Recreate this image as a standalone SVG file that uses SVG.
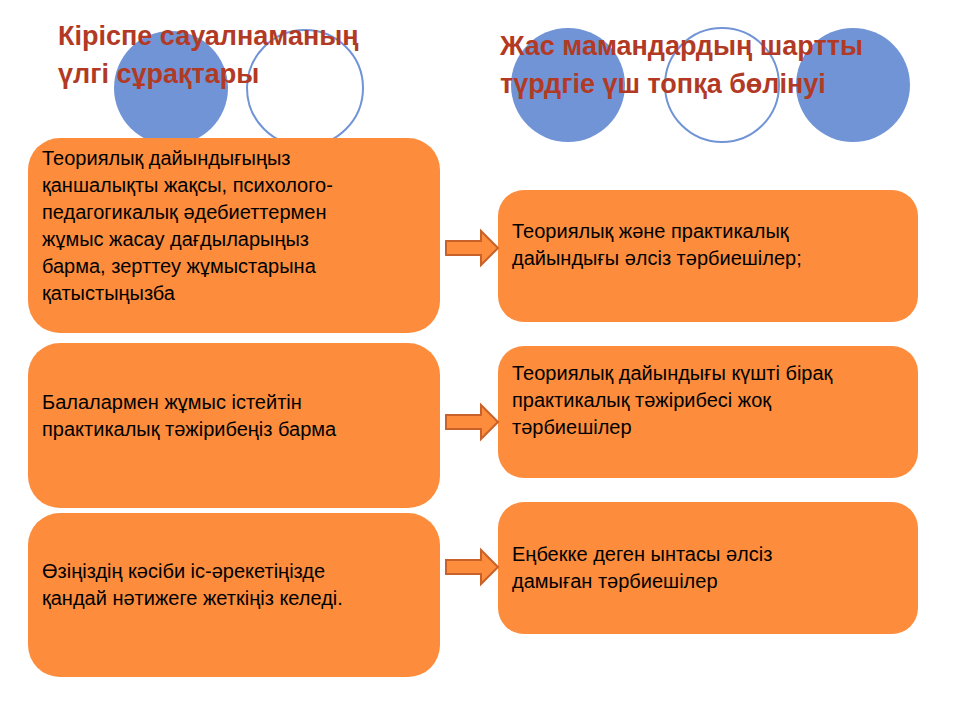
<svg xmlns="http://www.w3.org/2000/svg" width="960" height="720" viewBox="0 0 960 720">
<style>
.fc{fill:#7094d6}
.oc{fill:#fff;stroke:#7094d6;stroke-width:2}
.box{fill:#fd8c3c}
.t{font-family:"Liberation Sans",Arial,sans-serif;font-size:20px;fill:#000}
.h{font-family:"Liberation Sans",Arial,sans-serif;font-size:27px;font-weight:bold;fill:#b23a25}
.arr{fill:#fd8c3c;stroke:#c9612a;stroke-width:2}
</style>
<rect width="960" height="720" fill="#fff"/>
<g id="decor">
<circle class="fc" cx="171" cy="88" r="57"/>
<circle class="oc" cx="305" cy="88" r="58"/>
<circle class="fc" cx="568" cy="85" r="57"/>
<circle class="oc" cx="722" cy="85" r="57"/>
<circle class="fc" cx="853" cy="85" r="57"/>
</g>
<g id="titles">
<text class="h" x="58" y="45">Кіріспе сауалнаманың</text>
<text class="h" x="58" y="83">үлгі сұрақтары</text>
<text class="h" x="500" y="55">Жас мамандардың шартты</text>
<text class="h" x="500" y="93">түрдгіе үш топқа бөлінуі</text>
</g>
<g id="q1"><rect class="box" x="28" y="138" width="412" height="195" rx="32"/>
<text class="t" x="42" y="165">Теориялық дайындығыңыз</text>
<text class="t" x="42" y="192">қаншалықты жақсы,  психолого-</text>
<text class="t" x="42" y="219">педагогикалық әдебиеттермен</text>
<text class="t" x="42" y="246">жұмыс жасау дағдыларыңыз</text>
<text class="t" x="42" y="273">барма, зерттеу жұмыстарына</text>
<text class="t" x="42" y="300">қатыстыңызба</text></g>
<g id="q2"><rect class="box" x="28" y="343" width="412" height="165" rx="32"/>
<text class="t" x="42" y="409">Балалармен жұмыс істейтін</text>
<text class="t" x="42" y="436">практикалық тәжірибеңіз  барма</text></g>
<g id="q3"><rect class="box" x="28" y="513" width="412" height="164" rx="32"/>
<text class="t" x="42" y="578">Өзіңіздің кәсіби іс-әрекетіңізде</text>
<text class="t" x="42" y="605">қандай нәтижеге жеткіңіз келеді.</text></g>
<g id="g1"><rect class="box" x="498" y="190" width="420" height="132" rx="26"/>
<text class="t" x="512" y="238">Теориялық және практикалық</text>
<text class="t" x="512" y="265">дайындығы әлсіз тәрбиешілер;</text></g>
<g id="g2"><rect class="box" x="498" y="346" width="420" height="132" rx="26"/>
<text class="t" x="512" y="380">Теориялық дайындығы күшті бірақ</text>
<text class="t" x="512" y="407">практикалық тәжірибесі жоқ</text>
<text class="t" x="512" y="434">тәрбиешілер</text></g>
<g id="g3"><rect class="box" x="498" y="502" width="420" height="132" rx="26"/>
<text class="t" x="512" y="561">Еңбекке деген ынтасы әлсіз</text>
<text class="t" x="512" y="588">дамыған тәрбиешілер</text></g>
<g id="connectors">
<path class="arr" d="M446,241 H481 V231 L498,248 L481,265 V255 H446 Z"/>
<path class="arr" d="M446,415 H481 V405 L498,422 L481,439 V429 H446 Z"/>
<path class="arr" d="M446,560 H481 V550 L498,567 L481,584 V574 H446 Z"/>
</g>
</svg>
